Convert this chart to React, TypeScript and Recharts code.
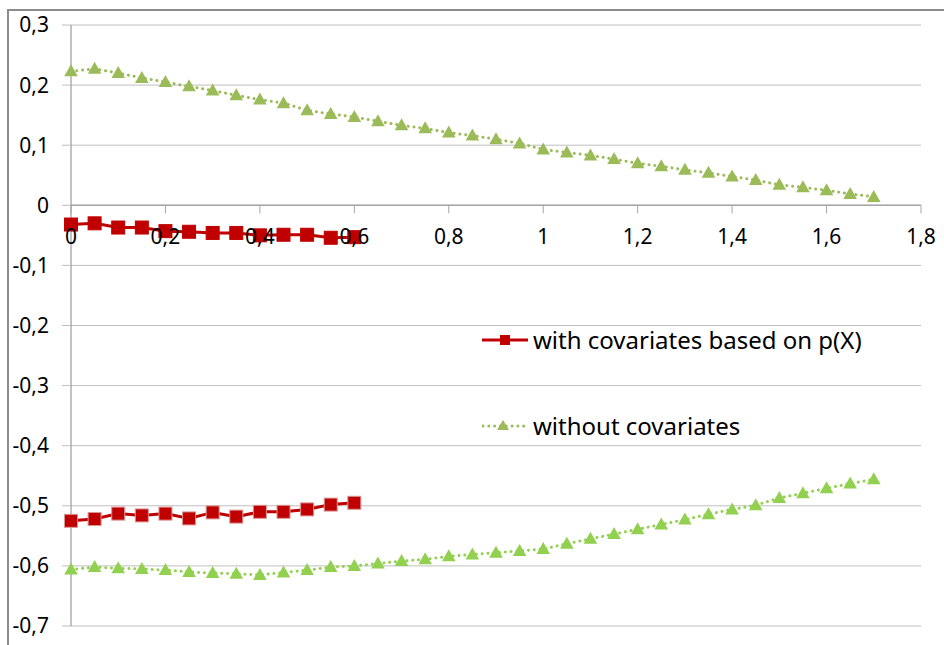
import React from 'react';
import { LineChart, Line, XAxis, YAxis, CartesianGrid, ReferenceDot, ReferenceLine } from 'recharts';

const xRed = [0, 0.05, 0.1, 0.15, 0.2, 0.25, 0.3, 0.35, 0.4, 0.45, 0.5, 0.55, 0.6];
const redUpper = [-0.032, -0.03, -0.037, -0.037, -0.043, -0.044, -0.046, -0.046, -0.05, -0.049, -0.049, -0.054, -0.053];
const redLower = [-0.525, -0.522, -0.513, -0.516, -0.513, -0.521, -0.511, -0.518, -0.51, -0.51, -0.506, -0.498, -0.495];

const xGreen = [0, 0.05, 0.1, 0.15, 0.2, 0.25, 0.3, 0.35, 0.4, 0.45, 0.5, 0.55, 0.6, 0.65, 0.7, 0.75, 0.8, 0.85, 0.9, 0.95, 1, 1.05, 1.1, 1.15, 1.2, 1.25, 1.3, 1.35, 1.4, 1.45, 1.5, 1.55, 1.6, 1.65, 1.7];
const greenUpper = [0.223, 0.227, 0.22, 0.212, 0.205, 0.198, 0.191, 0.183, 0.176, 0.17, 0.158, 0.152, 0.147, 0.14, 0.133, 0.128, 0.121, 0.116, 0.11, 0.103, 0.093, 0.088, 0.083, 0.077, 0.07, 0.065, 0.059, 0.054, 0.048, 0.042, 0.034, 0.03, 0.025, 0.019, 0.014];
const greenLower = [-0.606, -0.602, -0.604, -0.605, -0.607, -0.61, -0.612, -0.613, -0.615, -0.611, -0.607, -0.602, -0.6, -0.596, -0.592, -0.589, -0.584, -0.581, -0.578, -0.575, -0.572, -0.563, -0.555, -0.547, -0.539, -0.531, -0.523, -0.514, -0.506, -0.499, -0.487, -0.479, -0.471, -0.463, -0.456];

const xTicks = [0, 0.2, 0.4, 0.6, 0.8, 1, 1.2, 1.4, 1.6, 1.8];
const yTicks = [-0.7, -0.6, -0.5, -0.4, -0.3, -0.2, -0.1, 0, 0.1, 0.2, 0.3];

const seriesNames = ['with covariates based on p(X)', 'without covariates'];

const RED = '#C00000';
const GREEN = '#9BBB59';
const GREEN_LOW = '#92D050';
const FONT = "'Noto Sans', sans-serif";

const toPts = (xs: number[], ys: number[]) => xs.map((x, i) => ({ x, y: ys[i] }));

const fmt = (v: number) => {
  const r = Math.round(v * 10) / 10;
  if (r === 0) return '0';
  return String(r).replace('.', ',');
};

const squareDot = (color: string, stroke: string) => (p: any) => {
  const { cx, cy, index } = p;
  if (cx == null || cy == null) return <g key={index} />;
  return <rect key={index} x={cx - 6.5} y={cy - 6.5} width={13} height={13} fill={color} stroke={stroke} strokeWidth={1} />;
};

const triDot = (color: string) => (p: any) => {
  const { cx, cy, index } = p;
  if (cx == null || cy == null) return <g key={index} />;
  return (
    <polygon
      key={index}
      points={`${cx},${cy - 7} ${cx + 6.8},${cy + 5} ${cx - 6.8},${cy + 5}`}
      fill={color}
    />
  );
};

const xTickShape = (p: any) => {
  const { cx, cy } = p;
  const v = p.x;
  return (
    <g>
      <line x1={cx} y1={cy} x2={cx} y2={cy + 8} stroke="#A6A6A6" strokeWidth={1} />
      <text x={cx} y={cy + 39} textAnchor="middle" fontSize={21} fill="#000" fontFamily={FONT}>
        {fmt(v)}
      </text>
    </g>
  );
};

export default function App() {
  const redU = toPts(xRed, redUpper);
  const redL = toPts(xRed, redLower);
  const grnU = toPts(xGreen, greenUpper);
  const grnL = toPts(xGreen, greenLower);

  return (
    <div style={{ position: 'absolute', left: 0, top: 0, width: 944, height: 645, background: '#fff', fontFamily: FONT, overflow: 'hidden' }}>
      <div style={{ position: 'absolute', left: 7, top: 9, width: 944, height: 645, borderTop: '2px solid #8C8C8C', borderLeft: '2px solid #8C8C8C' }} />
      <div style={{ position: 'absolute', left: 0, top: 0 }}>
        <LineChart width={944} height={645} margin={{ top: 25, right: 23, left: 11, bottom: 19 }}>
          <CartesianGrid horizontal={true} vertical={false} stroke="#BFBFBF" strokeWidth={1} />
          <XAxis dataKey="x" type="number" domain={[0, 1.8]} ticks={xTicks} hide height={0} allowDuplicatedCategory={false} />
          <YAxis
            type="number"
            domain={[-0.7, 0.3]}
            ticks={yTicks}
            width={60}
            tickSize={9}
            tickMargin={13}
            tickFormatter={fmt}
            tick={{ fill: '#000', fontSize: 21, fontFamily: FONT }}
            axisLine={{ stroke: '#868686', strokeWidth: 1 }}
            tickLine={{ stroke: '#BFBFBF' }}
            interval={0}
          />
          <ReferenceLine y={0} stroke="#A6A6A6" strokeWidth={1.5} />
          <Line data={grnU} dataKey="y" name={seriesNames[1]} stroke={GREEN} strokeWidth={3} strokeDasharray="0.01 5.8" strokeLinecap="round" dot={triDot(GREEN)} isAnimationActive={false} />
          <Line data={grnL} dataKey="y" name={seriesNames[1] + ' (lower)'} stroke={GREEN_LOW} strokeWidth={3} strokeDasharray="0.01 5.8" strokeLinecap="round" dot={triDot(GREEN_LOW)} isAnimationActive={false} />
          <Line data={redU} dataKey="y" name={seriesNames[0]} stroke={RED} strokeWidth={3} dot={squareDot(RED, RED)} isAnimationActive={false} />
          <Line data={redL} dataKey="y" name={seriesNames[0] + ' (lower)'} stroke={RED} strokeWidth={3} dot={squareDot(RED, '#D99694')} isAnimationActive={false} />
          {xTicks.map((t) => (
            <ReferenceDot key={t} x={t} y={0} r={0} shape={xTickShape} />
          ))}
        </LineChart>
      </div>
      <div style={{ position: 'absolute', left: 482, top: 323, fontSize: 24, color: '#000', lineHeight: '34px' }}>
        <div style={{ display: 'flex', alignItems: 'center', height: 34 }}>
          <svg width={51} height={34}>
            <line x1={0} y1={17} x2={46} y2={17} stroke={RED} strokeWidth={3} />
            <rect x={18} y={12} width={10} height={10} fill={RED} />
          </svg>
          <span>{seriesNames[0]}</span>
        </div>
        <div style={{ display: 'flex', alignItems: 'center', height: 34, marginTop: 52 }}>
          <svg width={51} height={34}>
            <line x1={1} y1={17} x2={44} y2={17} stroke={GREEN} strokeWidth={3} strokeDasharray="0.01 5.8" strokeLinecap="round" />
            <polygon points="21,11 27,21 15,21" fill={GREEN} />
          </svg>
          <span>{seriesNames[1]}</span>
        </div>
      </div>
    </div>
  );
}
